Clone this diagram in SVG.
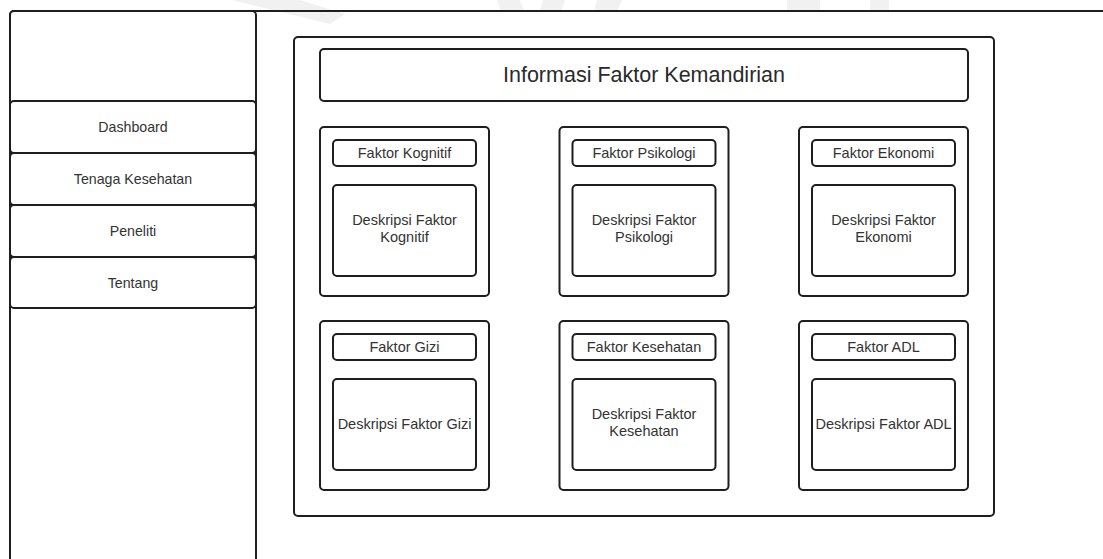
<svg xmlns="http://www.w3.org/2000/svg" width="1103" height="559" viewBox="0 0 1103 559">
  <style>
    .box { fill: #ffffff; stroke: #1e1e1e; stroke-width: 2; }
    .frame { fill: none; stroke: #1e1e1e; stroke-width: 2; }
    .lbl { font-family: "Liberation Sans", Arial, sans-serif; font-size: 14.2px; fill: #333333; text-anchor: middle; }
    .card-lbl { font-size: 14.5px; }
    .title { font-family: "Liberation Sans", Arial, sans-serif; font-size: 21.5px; fill: #2a2a2a; text-anchor: middle; }
    .wm { fill: #f1f1f1; }
  </style>
  <defs>
    <!-- one factor card: outer frame, header box, description box -->
    <g id="card">
      <rect class="box" x="0" y="0" width="169" height="169" rx="4"/>
      <rect class="box" x="13" y="13" width="143" height="26" rx="4"/>
      <rect class="box" x="13" y="58" width="143" height="91" rx="4"/>
    </g>
  </defs>

  <rect width="1103" height="559" fill="#ffffff"/>

  <!-- faint background mark -->
  <g id="watermark">
    <polygon class="wm" points="232,0 300,0 345,14 330,24"/>
    <polygon class="wm" points="497,0 520,0 524,11 501,11"/>
    <polygon class="wm" points="543,0 565,0 561,11 540,11"/>
    <polygon class="wm" points="597,0 622,0 617,11 594,11"/>
    <rect class="wm" x="787" y="0" width="33" height="11"/>
    <rect class="wm" x="870" y="0" width="19" height="11"/>
  </g>

  <!-- application frame -->
  <g id="frame">
    <rect class="frame" x="10" y="11" width="1110" height="570" rx="4"/>
  </g>

  <!-- sidebar -->
  <g id="sidebar">
    <rect class="box" x="10" y="11" width="246" height="570" rx="4"/>
  </g>
  <g id="menu-dashboard">
    <rect class="box" x="10" y="101" width="246" height="52" rx="4"/>
    <text class="lbl" x="133" y="132">Dashboard</text>
  </g>
  <g id="menu-tenaga-kesehatan">
    <rect class="box" x="10" y="153" width="246" height="52" rx="4"/>
    <text class="lbl" x="133" y="184">Tenaga Kesehatan</text>
  </g>
  <g id="menu-peneliti">
    <rect class="box" x="10" y="205" width="246" height="52" rx="4"/>
    <text class="lbl" x="133" y="236">Peneliti</text>
  </g>
  <g id="menu-tentang">
    <rect class="box" x="10" y="257" width="246" height="51" rx="4"/>
    <text class="lbl" x="133" y="288">Tentang</text>
  </g>

  <!-- content panel -->
  <g id="content-panel">
    <rect class="box" x="294" y="37" width="700" height="479" rx="4"/>
  </g>
  <g id="title">
    <rect class="box" x="320" y="49" width="648" height="52" rx="4"/>
    <text class="title" x="644" y="82">Informasi Faktor Kemandirian</text>
  </g>

  <!-- factor cards -->
  <g id="faktor-kognitif" transform="translate(320,127)">
    <use href="#card"/>
    <text class="lbl card-lbl" x="84.5" y="31">Faktor Kognitif</text>
    <text class="lbl card-lbl" x="84.5" y="98">Deskripsi Faktor</text>
    <text class="lbl card-lbl" x="84.5" y="115">Kognitif</text>
  </g>
  <g id="faktor-psikologi" transform="translate(559.5,127)">
    <use href="#card"/>
    <text class="lbl card-lbl" x="84.5" y="31">Faktor Psikologi</text>
    <text class="lbl card-lbl" x="84.5" y="98">Deskripsi Faktor</text>
    <text class="lbl card-lbl" x="84.5" y="115">Psikologi</text>
  </g>
  <g id="faktor-ekonomi" transform="translate(799,127)">
    <use href="#card"/>
    <text class="lbl card-lbl" x="84.5" y="31">Faktor Ekonomi</text>
    <text class="lbl card-lbl" x="84.5" y="98">Deskripsi Faktor</text>
    <text class="lbl card-lbl" x="84.5" y="115">Ekonomi</text>
  </g>
  <g id="faktor-gizi" transform="translate(320,321)">
    <use href="#card"/>
    <text class="lbl card-lbl" x="84.5" y="31">Faktor Gizi</text>
    <text class="lbl card-lbl" x="84.5" y="108">Deskripsi Faktor Gizi</text>
  </g>
  <g id="faktor-kesehatan" transform="translate(559.5,321)">
    <use href="#card"/>
    <text class="lbl card-lbl" x="84.5" y="31">Faktor Kesehatan</text>
    <text class="lbl card-lbl" x="84.5" y="98">Deskripsi Faktor</text>
    <text class="lbl card-lbl" x="84.5" y="115">Kesehatan</text>
  </g>
  <g id="faktor-adl" transform="translate(799,321)">
    <use href="#card"/>
    <text class="lbl card-lbl" x="84.5" y="31">Faktor ADL</text>
    <text class="lbl card-lbl" x="84.5" y="108">Deskripsi Faktor ADL</text>
  </g>

  <!-- no connectors in this layout -->
  <g id="connectors"/>
</svg>
